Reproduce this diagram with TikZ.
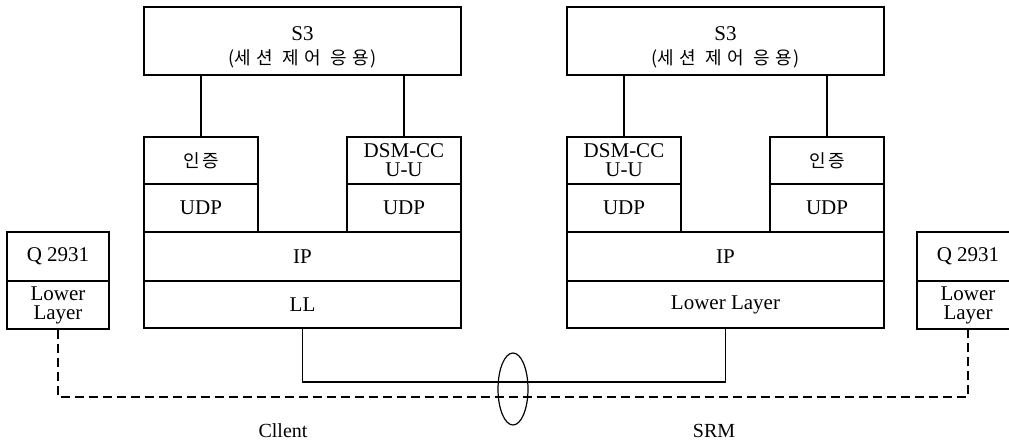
\documentclass[tikz,border=0pt]{standalone}
\usepackage{fontspec}
\setmainfont{Liberation Serif}
\newfontfamily\kr[LetterSpace=12]{Noto Sans CJK KR}
\newfontfamily\krwide[LetterSpace=30]{Noto Sans CJK KR}
\usetikzlibrary{shapes.geometric}

\tikzset{
  layer/.style={draw, line width=1.2pt, inner sep=0pt, align=center,
    font=\fontsize{21}{19}\selectfont},
  wide/.style={layer, minimum width=317pt},
  half/.style={layer, minimum width=114pt},
  side/.style={layer, minimum width=102pt},
  wire/.style={line width=1.2pt},
  signal/.style={line width=1.2pt, dash pattern=on 9pt off 5pt},
}
% session control label
\newcommand{\sesslabel}{\rule{0pt}{26pt}S3\\{\fontsize{18}{24}\selectfont
  {\kr(}{\krwide 세션 제어 응용}{\kr\kern1pt)}}}

\begin{document}
\begin{tikzpicture}[x=1pt, y=-1pt]
        \clip (0,0) rectangle (1009,446);
        \fill [white] (0,0) rectangle (1009,446);

        % Client stack
        \node [wide, minimum height=68pt, font=\fontsize{21}{24}\selectfont]
            (s3a) at (302.5,41) {\sesslabel};
        \node [half, minimum height=47pt] (auth1) at (201,160.5)
            {\kr\fontsize{18}{20}\selectfont 인증};
        \node [half, minimum height=48pt] (udp1) at (201,208) {UDP};
        \node [half, minimum height=47pt] (dsm1) at (404,160.5) {DSM-CC\\U-U};
        \node [half, minimum height=48pt] (udp2) at (404,208) {UDP};
        \node [wide, minimum height=49pt] (ip1) at (302.5,256.5) {IP};
        \node [wide, minimum height=47pt] (ll1) at (302.5,304.5) {LL};

        % SRM stack
        \node [wide, minimum height=68pt, font=\fontsize{21}{24}\selectfont]
            (s3b) at (725.5,41) {\sesslabel};
        \node [half, minimum height=47pt] (dsm2) at (624,160.5) {DSM-CC\\U-U};
        \node [half, minimum height=48pt] (udp3) at (624,208) {UDP};
        \node [half, minimum height=47pt] (auth2) at (827,160.5)
            {\kr\fontsize{18}{20}\selectfont 인증};
        \node [half, minimum height=48pt] (udp4) at (827,208) {UDP};
        \node [wide, minimum height=49pt] (ip2) at (725.5,256.5) {IP};
        \node [wide, minimum height=47pt] (ll2) at (725.5,304.5) {Lower Layer};

        % Signalling stacks
        \node [side, minimum height=49pt] (q1) at (58,256.5) {Q 2931};
        \node [side, minimum height=48pt] (low1) at (58,305) {Lower\\Layer};
        \node [side, minimum height=49pt] (q2) at (968,256.5) {Q 2931};
        \node [side, minimum height=48pt] (low2) at (968,305) {Lower\\Layer};

        % Application links
        \draw [wire] (auth1.north) -- (auth1.north |- s3a.south);
        \draw [wire] (dsm1.north) -- (dsm1.north |- s3a.south);
        \draw [wire] (dsm2.north) -- (dsm2.north |- s3b.south);
        \draw [wire] (auth2.north) -- (auth2.north |- s3b.south);

        % Network
        \coordinate (bus) at (513,382);
        \coordinate (sig) at (513,397);
        \draw [wire] (ll1.south) |- (bus) -| (ll2.south);
        \draw [signal] (low1.south) |- (sig) -| (low2.south);
        \node [draw, ellipse, line width=1.2pt, minimum width=30pt,
            minimum height=72pt, inner sep=0pt] (cut) at (513,389) {};

        % Labels
        \node [font=\fontsize{20}{20}\selectfont] (client) at (283,431) {Cllent};
        \node [font=\fontsize{20}{20}\selectfont] (srm) at (714,431) {SRM};
\end{tikzpicture}
\end{document}
